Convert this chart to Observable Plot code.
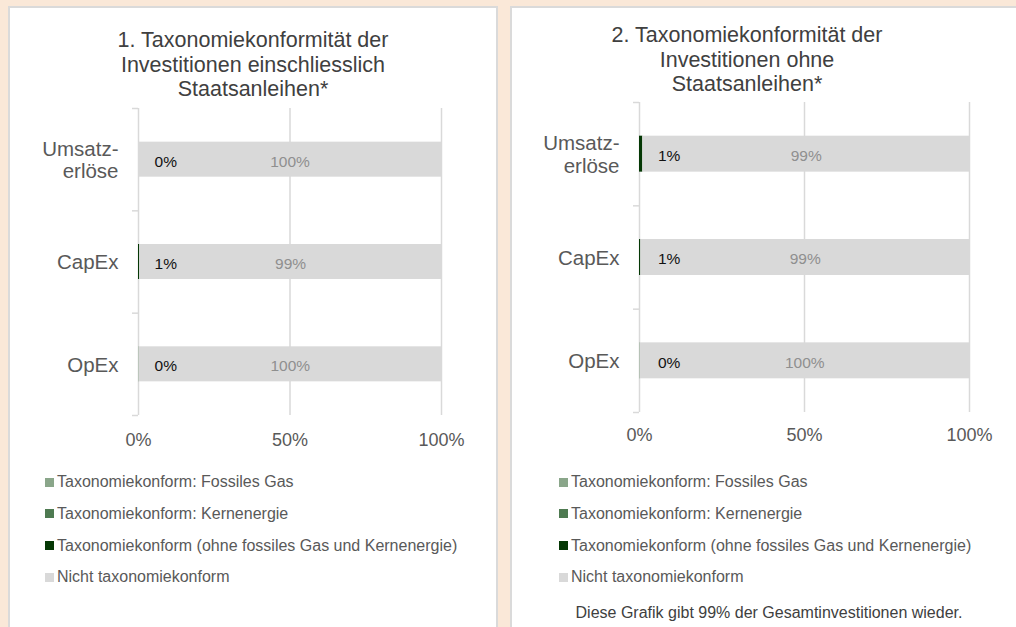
<!DOCTYPE html>
<html><head><meta charset="utf-8">
<script src="https://cdn.jsdelivr.net/npm/d3@7"></script>
<script src="https://cdn.jsdelivr.net/npm/@observablehq/plot@0.6"></script>
<style>
html,body{margin:0;padding:0;width:1016px;height:627px;overflow:hidden;background:#FAE8D8;font-family:"Liberation Sans",Arial,sans-serif;}
.panel{position:absolute;background:#fff;border:2px solid #dadada;box-sizing:border-box;}
.title{position:absolute;text-align:center;font-size:21.5px;line-height:24.3px;color:#404040;white-space:nowrap;width:420px;}
.chart{position:absolute;}
.leg{position:absolute;font-size:16px;line-height:20px;height:20px;color:#595959;white-space:nowrap;}
.sw{position:absolute;width:9px;height:9px;}
.foot{position:absolute;font-size:16px;line-height:20px;color:#404040;white-space:nowrap;text-align:center;width:440px;}
</style></head><body>
<div class="panel" style="left:8px;top:6px;width:490px;height:700px;"></div>
<div class="panel" style="left:510px;top:6px;width:600px;height:700px;"></div>
<div id="root"></div>
<script>
// ---- data ----
const categories = ["Umsatz-\nerlöse", "CapEx", "OpEx"];
const seriesNames = [
  "Taxonomiekonform: Fossiles Gas",
  "Taxonomiekonform: Kernenergie",
  "Taxonomiekonform (ohne fossiles Gas und Kernenergie)",
  "Nicht taxonomiekonform"
];
const seriesColors = ["#8AA68A", "#4E7A51", "#053805", "#D9D9D9"];
const xTicks = [0, 50, 100];

// Chart 1: including sovereign bonds
const c1Fossil = [0, 0, 0.2];
const c1Kern   = [0, 0, 0];
const c1Ohne   = [0, 0.4, 0];
const c1Nicht  = [100, 99.6, 99.8];
const c1LabelTaxo  = ["0%", "1%", "0%"];
const c1LabelNicht = ["100%", "99%", "100%"];
const title1 = ["1. Taxonomiekonformität der", "Investitionen einschliesslich", "Staatsanleihen*"];

// Chart 2: excluding sovereign bonds
const c2Fossil = [0, 0, 0.2];
const c2Kern   = [0, 0, 0];
const c2Ohne   = [1.0, 0.4, 0];
const c2Nicht  = [99.0, 99.6, 99.8];
const c2LabelTaxo  = ["1%", "1%", "0%"];
const c2LabelNicht = ["99%", "99%", "100%"];
const title2 = ["2. Taxonomiekonformität der", "Investitionen ohne", "Staatsanleihen*"];
const footnote2 = "Diese Grafik gibt 99% der Gesamtinvestitionen wieder.";

const FONT = "'Liberation Sans', Arial, sans-serif";

function makeChart(o) {
  const rows = [];
  categories.forEach((c, i) => {
    o.values.forEach((arr, s) => rows.push({cat: c, series: seriesNames[s], value: arr[i]}));
  });
  const labels = categories.map((c, i) => ({
    cat: c,
    taxo: o.labelTaxo[i],
    nicht: o.labelNicht[i],
    mid: o.values.slice(0, 3).reduce((a, arr) => a + arr[i], 0) + o.values[3][i] / 2
  }));
  const plotW = o.width - o.marginLeft - o.marginRight;
  const plotH = o.height - o.marginTop - o.marginBottom;
  const step = plotH / categories.length;
  const grid = "#d9d9d9";
  return Plot.plot({
    width: o.width, height: o.height,
    marginLeft: o.marginLeft, marginRight: o.marginRight,
    marginTop: o.marginTop, marginBottom: o.marginBottom,
    style: {fontFamily: FONT, background: "transparent", overflow: "visible"},
    x: {domain: [0, 100]},
    y: {domain: categories, paddingInner: o.pad, paddingOuter: o.pad / 2, round: false},
    color: {domain: seriesNames, range: seriesColors},
    marks: [
      Plot.ruleX(xTicks, {x: d => d, stroke: grid, strokeWidth: 1.5}),
      Plot.barX(rows, Plot.stackX({x: "value", y: "cat", fill: "series", order: seriesNames})),
      Plot.ruleY(categories, {y: d => d, x1: d => 0, x2: d => 0, insetLeft: -6, dy: -step / 2, stroke: grid, strokeWidth: 1.5}),
      Plot.ruleY(categories.slice(-1), {y: d => d, x1: d => 0, x2: d => 0, insetLeft: -6, dy: step / 2, stroke: grid, strokeWidth: 1.5}),
      Plot.text(labels, {x: d => 0, y: "cat", text: "taxo", dx: plotW * 0.09, dy: 2, fill: "#111", fontSize: 15.5}),
      Plot.text(labels, {x: "mid", y: "cat", text: "nicht", dy: 2, fill: "#8f8f8f", fontSize: 15.5}),
      Plot.axisX({ticks: xTicks, tickSize: 0, tickPadding: o.xPad, tickFormat: d => d + "%", fontSize: 18, fill: "#595959", label: null}),
      Plot.axisY({tickSize: 0, tickPadding: 20, fontSize: 20.5, fill: "#595959", lineHeight: 1.12, label: null})
    ]
  });
}

function place(el, left, top) {
  el.style.position = "absolute";
  el.style.left = left + "px";
  el.style.top = top + "px";
  document.body.appendChild(el);
}

function addTitle(lines, centerX, top) {
  const d = document.createElement("div");
  d.className = "title";
  d.innerHTML = lines.map(l => l.replace(/&/g, "&amp;")).join("<br>");
  d.style.left = (centerX - 210) + "px";
  d.style.top = top + "px";
  document.body.appendChild(d);
}

function addLegend(swLeft, rowCenters) {
  seriesNames.forEach((name, i) => {
    const sw = document.createElement("div");
    sw.className = "sw";
    sw.style.background = seriesColors[i];
    sw.style.left = swLeft + "px";
    sw.style.top = (rowCenters[i] - 4.5) + "px";
    document.body.appendChild(sw);
    const t = document.createElement("div");
    t.className = "leg";
    t.textContent = name;
    t.style.left = (swLeft + 12) + "px";
    t.style.top = (rowCenters[i] - 9.8) + "px";
    document.body.appendChild(t);
  });
}

const rowCenters = [482, 513.5, 545.5, 577];

// Chart 1
addTitle(title1, 253, 28.4);
const ch1 = makeChart({
  values: [c1Fossil, c1Kern, c1Ohne, c1Nicht],
  labelTaxo: c1LabelTaxo, labelNicht: c1LabelNicht,
  width: 497, height: 360, marginLeft: 138, marginRight: 56, marginTop: 13, marginBottom: 40,
  pad: 0.658, xPad: 17.5
});
place(ch1, 0, 95);
addLegend(45, rowCenters);

// Chart 2
addTitle(title2, 747, 23.4);
const ch2 = makeChart({
  values: [c2Fossil, c2Kern, c2Ohne, c2Nicht],
  labelTaxo: c2LabelTaxo, labelNicht: c2LabelNicht,
  width: 505, height: 360, marginLeft: 128, marginRight: 47, marginTop: 12, marginBottom: 38,
  pad: 0.652, xPad: 16
});
place(ch2, 511, 90);
addLegend(559, rowCenters);

const f = document.createElement("div");
f.className = "foot";
f.textContent = footnote2;
f.style.left = (769 - 220) + "px";
f.style.top = (613 - 9.8) + "px";
document.body.appendChild(f);
</script>
</body></html>
